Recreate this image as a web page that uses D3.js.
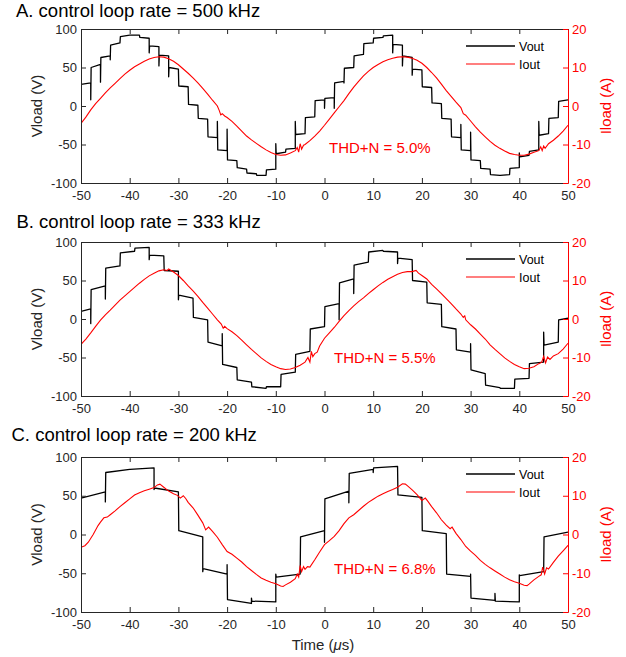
<!DOCTYPE html>
<html>
<head>
<meta charset="utf-8">
<script src="https://cdn.jsdelivr.net/npm/d3@7"></script>
<style>
  body { margin: 0; background: #fff; }
  svg text { font-family: "Liberation Sans", Arial, sans-serif; }
</style>
</head>
<body>
<script>
var timeTicks = [-50, -40, -30, -20, -10, 0, 10, 20, 30, 40, 50];
var vTicks = [-100, -50, 0, 50, 100];
var iTicks = [-20, -10, 0, 10, 20];
var titles = ["A. control loop rate = 500 kHz", "B. control loop rate = 333 kHz", "C. control loop rate = 200 kHz"];
var thdLabels = ["THD+N = 5.0%", "THD+N = 5.5%", "THD+N = 6.8%"];
var legendNames = ["Vout", "Iout"];

// A: 500 kHz, a new level every 2 us
var stepsA = [-50,-48,-46,-44,-42,-40,-38,-36,-34,-32,-30,-28,-26,-24,-22,-20,-18,-16,-14,-12,-10,-8,-6,-4,-2,
              0,2,4,6,8,10,12,14,16,18,20,22,24,26,28,30,32,34,36,38,40,42,44,46,48,50];
var voutA = [[28,30],[50,54],[63,65],[79,82],[90,92],[92,92],[89,88],[78,77],[66,65],[50,48],
             [26,25],[2,1],[-16,-17],[-40,-41],[-57,-58],[-70,-71],[-80,-82],[-87,-88],[-90,-90],[-83,-82],
             [-62,-60],[-56,-55],[-37,-36],[-15,-14],[7,8],[10,11],[30,32],[49,50],[65,67],[81,82],
             [88,89],[91,92],[80,79],[65,63],[48,47],[25,24],[4,3],[-16,-17],[-40,-41],[-57,-58],
             [-70,-71],[-81,-82],[-89,-90],[-90,-89],[-81,-80],[-66,-64],[-59,-57],[-38,-36],[-16,-15],[6,8]];
var spikesA = [[-50,8],[-48,8],[-46,31],[-44,60],[-36,69],[-34,52],[-32,38],[-22,-20],[-20,-30],[-10,-49],
               [-6,-20],[0,-3],[2,-3],[4,30],[14,69],[16,52],[18,40],[28,-24],[30,-34],[40,-61],[44,-20]];
var ioutA = [[-50,-4.5],[-49,-2.9],[-48,-1.0],[-47,0.6],[-46,2.0],[-45,3.4],[-44,4.7],[-43,5.9],[-42,7.1],[-41,8.3],
             [-40,9.3],[-39,10.2],[-38,10.9],[-37,11.6],[-36,12.2],[-35,12.6],[-34,12.8],[-33,12.7],[-32,12.3],[-31,11.6],
             [-30,10.7],[-29,9.6],[-28,8.5],[-27,7.3],[-26,6.0],[-25,4.6],[-24,3.1],[-23,1.5],[-22,0.0],[-21.6,-1.2],
             [-21.3,-2.3],[-21,-2.0],[-20.5,-2.6],[-20,-3.0],[-19,-4.0],[-18,-5.2],[-17,-6.5],[-16,-7.8],[-15,-8.8],[-14,-9.7],
             [-13,-10.6],[-12,-11.4],[-11,-12.1],[-10,-12.6],[-9,-12.8],[-8,-12.7],[-7,-12.2],[-6,-11.6],[-5.6,-10.8],[-5.3,-12.0],
             [-5.0,-9.8],[-4.7,-11.2],[-4.3,-10.2],[-4,-10.0],[-3,-9.0],[-2,-7.8],[-1,-6.5],[0,-5.0],[1,-3.4],[2,-1.8],
             [3,-0.2],[4,1.4],[5,3.2],[6,4.9],[7,6.4],[8,7.8],[9,9.0],[10,10.0],[11,10.8],[12,11.5],
             [13,12.0],[14,12.4],[15,12.7],[16,12.8],[17,12.7],[18,12.4],[19,11.9],[20,11.1],[21,10.0],[22,8.7],
             [23,7.3],[24,5.7],[25,4.0],[26,2.5],[27,1.0],[28,-0.4],[28.5,-2.0],[29,-2.4],[30,-3.9],[31,-5.4],
             [32,-6.8],[33,-8.0],[34,-9.2],[35,-10.2],[36,-11.0],[37,-11.7],[38,-12.3],[39,-12.6],[40,-12.8],[41,-12.8],
             [42,-12.5],[43,-12.0],[44,-11.6],[44.4,-10.6],[44.7,-11.6],[45,-10.4],[45.3,-11.0],[46,-9.8],[47,-8.9],[48,-7.8],
             [49,-6.5],[50,-5.0]];

// B: 333 kHz, a new level every 3 us
var stepsB = [-50,-48,-45,-42,-39,-36,-33,-30,-27,-24,-21,-18,-15,-12,-9,-6,-3,
              0,3,6,9,12,15,18,21,24,27,30,33,36,39,42,45,48,50];
var voutB = [[10,13],[38,43],[66,69],[86,88],[92,93],[83,82],[63,62],[31,27],[2,-1],[-30,-35],
             [-59,-63],[-79,-82],[-88,-90],[-88,-88],[-72,-69],[-46,-42],[-13,-10],[16,20],[47,52],[70,74],
             [87,89],[88,87],[79,77],[50,48],[21,19],[-10,-13],[-40,-43],[-66,-71],[-86,-89],[-90,-90],
             [-78,-77],[-58,-56],[-34,-30],[-1,1]];
var spikesB = [[-48,-6],[-45,26],[-36,77],[-30,25],[-21,-19],[3,-1],[6,33],[15,72],[30,-32],[45,-17]];
var ioutB = [[-50,-6.6],[-49,-5.2],[-48,-3.6],[-47,-1.9],[-46,-0.3],[-45,1.1],[-44,2.3],[-43,3.6],[-42,4.9],[-41,6.0],
             [-40,7.1],[-39,8.2],[-38,9.3],[-37,10.3],[-36,11.2],[-35,11.9],[-34,12.5],[-33,12.8],[-32.3,12.6],[-32,13.0],
             [-31.5,12.6],[-31,12.2],[-30,11.3],[-29,10.0],[-28,8.6],[-27,7.3],[-26,5.9],[-25,4.3],[-24,2.8],[-23,1.3],
             [-22,-0.2],[-21.2,-1.3],[-20.8,-2.4],[-20.5,-1.9],[-20,-2.5],[-19,-3.3],[-18,-4.3],[-17,-5.5],[-16,-6.7],[-15,-7.9],
             [-14,-9.0],[-13,-10.1],[-12,-11.0],[-11,-11.8],[-10,-12.4],[-9,-12.9],[-8,-13.1],[-7,-13.0],[-6,-12.6],[-5,-12.0],
             [-4,-11.2],[-3.4,-10.0],[-3.0,-11.2],[-2.7,-8.4],[-2.4,-9.8],[-2.0,-9.0],[-1.5,-8.6],[-1,-7.0],[0,-5.0],[1,-3.6],
             [2,-2.2],[3,-0.6],[4,0.9],[5,2.2],[6,3.4],[7,4.5],[8,5.5],[9,6.6],[10,7.6],[11,8.6],
             [12,9.5],[13,10.3],[14,11.0],[15,11.6],[16,12.1],[17,12.3],[18,12.3],[18.8,12.6],[19.3,11.9],[20,11.3],
             [21,10.4],[22,9.0],[23,7.8],[24,6.6],[25,5.3],[26,4.0],[27,2.6],[28,1.3],[28.5,0.4],[28.8,0.8],
             [29,-0.2],[30,-1.5],[31,-2.6],[32,-3.9],[33,-5.2],[34,-6.7],[35,-7.9],[36,-9.0],[37,-10.1],[38,-11.0],
             [39,-11.8],[40,-12.4],[41,-12.9],[42,-12.8],[43,-12.4],[44,-11.6],[44.6,-11.2],[45,-9.7],[45.4,-11.4],[45.8,-9.9],
             [46.3,-10.5],[47,-9.6],[48,-9.0],[49,-7.8],[50,-6.3]];

// C: 200 kHz, a new level every 5 us
var stepsC = [-50,-45,-40,-35,-30,-25,-20,-15,-10,-5,0,5,10,15,20,25,30,35,40,45,50];
var voutC = [[47,55],[80,84],[84,86],[60,55],[5,-3],[-44,-51],[-84,-89],[-86,-87],[-55,-51],[-3,5],
             [46,56],[79,84],[86,88],[51,48],[5,1],[-51,-54],[-82,-85],[-86,-87],[-53,-48],[-3,3]];
var spikesC = [[-50,0],[-45,42],[-35,58],[-25,-48],[-20,-39],[-15,-82],[-10,-51],[0,-10],[5,41],[10,80],
               [30,-51],[35,-76],[40,-52]];
var ioutC = [[-50,-3.3],[-49.2,-2.9],[-48.5,-2.0],[-47.5,0.0],[-46.5,2.3],[-46,3.2],[-45.3,4.3],[-44.6,4.5],[-44,5.1],[-43,6.1],
             [-42,7.2],[-41,8.2],[-40,9.2],[-39,10.2],[-38,10.8],[-37,11.3],[-36,11.7],[-35,12.1],[-34.3,12.8],[-33.8,13.0],
             [-33,12.2],[-32,11.2],[-31,10.5],[-30.2,10.1],[-29.6,9.4],[-29.0,10.0],[-28.5,9.3],[-28,8.3],[-27,6.9],[-26,5.0],
             [-25,3.0],[-24.4,1.2],[-23.8,1.9],[-23,0.8],[-22,-0.7],[-21,-2.6],[-20,-4.4],[-19,-5.1],[-18,-6.1],[-17,-7.1],
             [-16,-8.3],[-15,-9.3],[-14,-10.3],[-13,-11.2],[-12,-11.8],[-11,-12.3],[-10,-12.7],[-9,-13.3],[-8.5,-13.4],[-8,-13.0],
             [-7,-12.3],[-6,-11.4],[-5.6,-10.2],[-5.3,-11.0],[-5,-8.0],[-4.7,-9.6],[-4.3,-8.3],[-4,-9.0],[-3.5,-8.3],[-3,-8.4],
             [-2,-6.5],[-1,-4.5],[0,-2.6],[1,-1.6],[2,-0.5],[3,1.0],[4,2.8],[5,4.3],[6,5.1],[7,6.2],
             [8,7.3],[9,8.3],[10,9.1],[11,9.9],[12,10.5],[13,11.1],[14,11.6],[15,12.2],[16,13.1],[16.6,13.0],
             [17,12.6],[18,11.5],[19,10.3],[20,8.8],[20.7,9.4],[21.2,8.6],[22,7.2],[23,5.6],[24,3.8],[25,2.4],
             [25.8,1.5],[26.2,1.9],[27,0.3],[28,-1.3],[29,-3.1],[30,-4.3],[31,-5.4],[32,-6.7],[33,-7.7],[34,-8.6],
             [35,-9.4],[36,-10.2],[37,-11.0],[38,-11.7],[39,-12.2],[40,-12.6],[41,-13.1],[41.6,-13.2],[42,-12.8],[43,-11.7],
             [44,-10.8],[44.5,-10.4],[44.8,-8.4],[45.2,-10.2],[45.6,-8.6],[46,-8.9],[47,-7.2],[48,-5.6],[49,-4.2],[50,-2.8]];

// ---- layout ----
var W = 626, H = 657;
var left = 81, right = 568;
var panels = [
  {top: 29, bottom: 183, steps: stepsA, vout: voutA, spikes: spikesA, iout: ioutA, titleX: 16, titleY: 17, thdY: 153},
  {top: 242, bottom: 396, steps: stepsB, vout: voutB, spikes: spikesB, iout: ioutB, titleX: 16.5, titleY: 228, thdY: 363},
  {top: 457, bottom: 612, steps: stepsC, vout: voutC, spikes: spikesC, iout: ioutC, titleX: 11.5, titleY: 441, thdY: 574}
];

var svg = d3.select("body").append("svg")
    .attr("width", W)
    .attr("height", H);

svg.append("rect").attr("width", W).attr("height", H).attr("fill", "#fff");

// staircase: level start/end per step, a short overshoot at some switching instants
function stairs(steps, levels, spikes) {
  var spikeAt = new Map(spikes.map(function(d) { return [d[0], d[1]]; }));
  var pts = [];
  levels.forEach(function(lv, i) {
    var t0 = steps[i], t1 = steps[i + 1];
    if (spikeAt.has(t0)) pts.push([t0, spikeAt.get(t0)]);
    pts.push([i == 0 ? t0 : t0 + 0.08, lv[0]]);
    pts.push([t1, lv[1]]);
  });
  return pts;
}

var x = d3.scaleLinear().domain([-50, 50]).range([left, right]);

panels.forEach(function(p, k) {
  var yV = d3.scaleLinear().domain([-100, 100]).range([p.bottom, p.top]);
  var yI = d3.scaleLinear().domain([-20, 20]).range([p.bottom, p.top]);
  var g = svg.append("g");

  g.append("clipPath").attr("id", "clip" + k)
    .append("rect")
    .attr("x", left).attr("y", p.top)
    .attr("width", right - left).attr("height", p.bottom - p.top);

  // title
  g.append("text").text(titles[k])
    .attr("x", p.titleX).attr("y", p.titleY)
    .attr("font-family", "Lato, 'Open Sans', sans-serif")
    .attr("font-size", 18.5)
    .attr("fill", "#000");

  var lines = g.append("g").attr("clip-path", "url(#clip" + k + ")");

  // Vout, black staircase
  lines.append("path")
    .datum(stairs(p.steps, p.vout, p.spikes))
    .attr("d", d3.line().x(function(d) { return x(d[0]); }).y(function(d) { return yV(d[1]); }))
    .attr("fill", "none")
    .attr("stroke", "#000")
    .attr("stroke-width", 1.3)
    .attr("stroke-linejoin", "round");

  // Iout, red, on the right axis
  lines.append("path")
    .datum(p.iout)
    .attr("d", d3.line().x(function(d) { return x(d[0]); }).y(function(d) { return yI(d[1]); }))
    .attr("fill", "none")
    .attr("stroke", "#ff0000")
    .attr("stroke-width", 1.1);

  // axes, ticks pointing inward
  var axB = g.append("g").attr("transform", "translate(0," + p.bottom + ")")
    .call(d3.axisBottom(x).tickValues(timeTicks).tickSizeInner(-5).tickSizeOuter(0).tickPadding(8)
      .tickFormat(function(d) { return String(d); }));
  var axT = g.append("g").attr("transform", "translate(0," + p.top + ")")
    .call(d3.axisTop(x).tickValues(timeTicks).tickSizeInner(-5).tickSizeOuter(0).tickFormat(""));
  var axL = g.append("g").attr("transform", "translate(" + left + ",0)")
    .call(d3.axisLeft(yV).tickValues(vTicks).tickSizeInner(-5).tickSizeOuter(0).tickPadding(4)
      .tickFormat(function(d) { return String(d); }));
  var axR = g.append("g").attr("transform", "translate(" + right + ",0)")
    .call(d3.axisRight(yI).tickValues(iTicks).tickSizeInner(-5).tickSizeOuter(0).tickPadding(4)
      .tickFormat(function(d) { return String(d); }));

  [axB, axT, axL].forEach(function(a) {
    a.selectAll("path, line").attr("stroke", "#262626");
    a.selectAll("text").attr("fill", "#262626").attr("font-size", 13)
      .attr("font-family", "'Liberation Sans', Arial, sans-serif");
  });
  axR.selectAll("path, line").attr("stroke", "#ff0000");
  axR.selectAll("text").attr("fill", "#ff0000").attr("font-size", 13)
    .attr("font-family", "'Liberation Sans', Arial, sans-serif");

  // axis titles
  var mid = (p.top + p.bottom) / 2;
  g.append("text").text("Vload (V)")
    .attr("transform", "translate(42," + mid + ") rotate(-90)")
    .attr("text-anchor", "middle")
    .attr("font-size", 15)
    .attr("fill", "#262626");
  g.append("text").text("Iload (A)")
    .attr("transform", "translate(611," + mid + ") rotate(-90)")
    .attr("text-anchor", "middle")
    .attr("font-size", 15)
    .attr("fill", "#ff0000");

  // legend
  var leg = g.append("g");
  [["#000", 17], ["#ff0000", 35]].forEach(function(c, j) {
    leg.append("line")
      .attr("x1", 466).attr("x2", 515)
      .attr("y1", p.top + c[1]).attr("y2", p.top + c[1])
      .attr("stroke", c[0]).attr("stroke-width", j == 0 ? 1.3 : 1.1);
    leg.append("text").text(legendNames[j])
      .attr("x", 519).attr("y", p.top + c[1] + 4.5)
      .attr("font-size", 12.5)
      .attr("fill", "#000");
  });

  // THD+N note
  g.append("text").text(thdLabels[k])
    .attr("x", k == 0 ? 329 : 334).attr("y", p.thdY)
    .attr("font-family", "Lato, 'Open Sans', sans-serif")
    .attr("font-size", 15)
    .attr("fill", "#ff0000");
});

// shared x label
var xl = svg.append("text")
    .attr("x", 323).attr("y", 650)
    .attr("text-anchor", "middle")
    .attr("font-size", 15)
    .attr("fill", "#262626");
xl.append("tspan").text("Time (");
xl.append("tspan").text("\u03bc").attr("font-style", "italic");
xl.append("tspan").text("s)");
</script>
</body>
</html>
